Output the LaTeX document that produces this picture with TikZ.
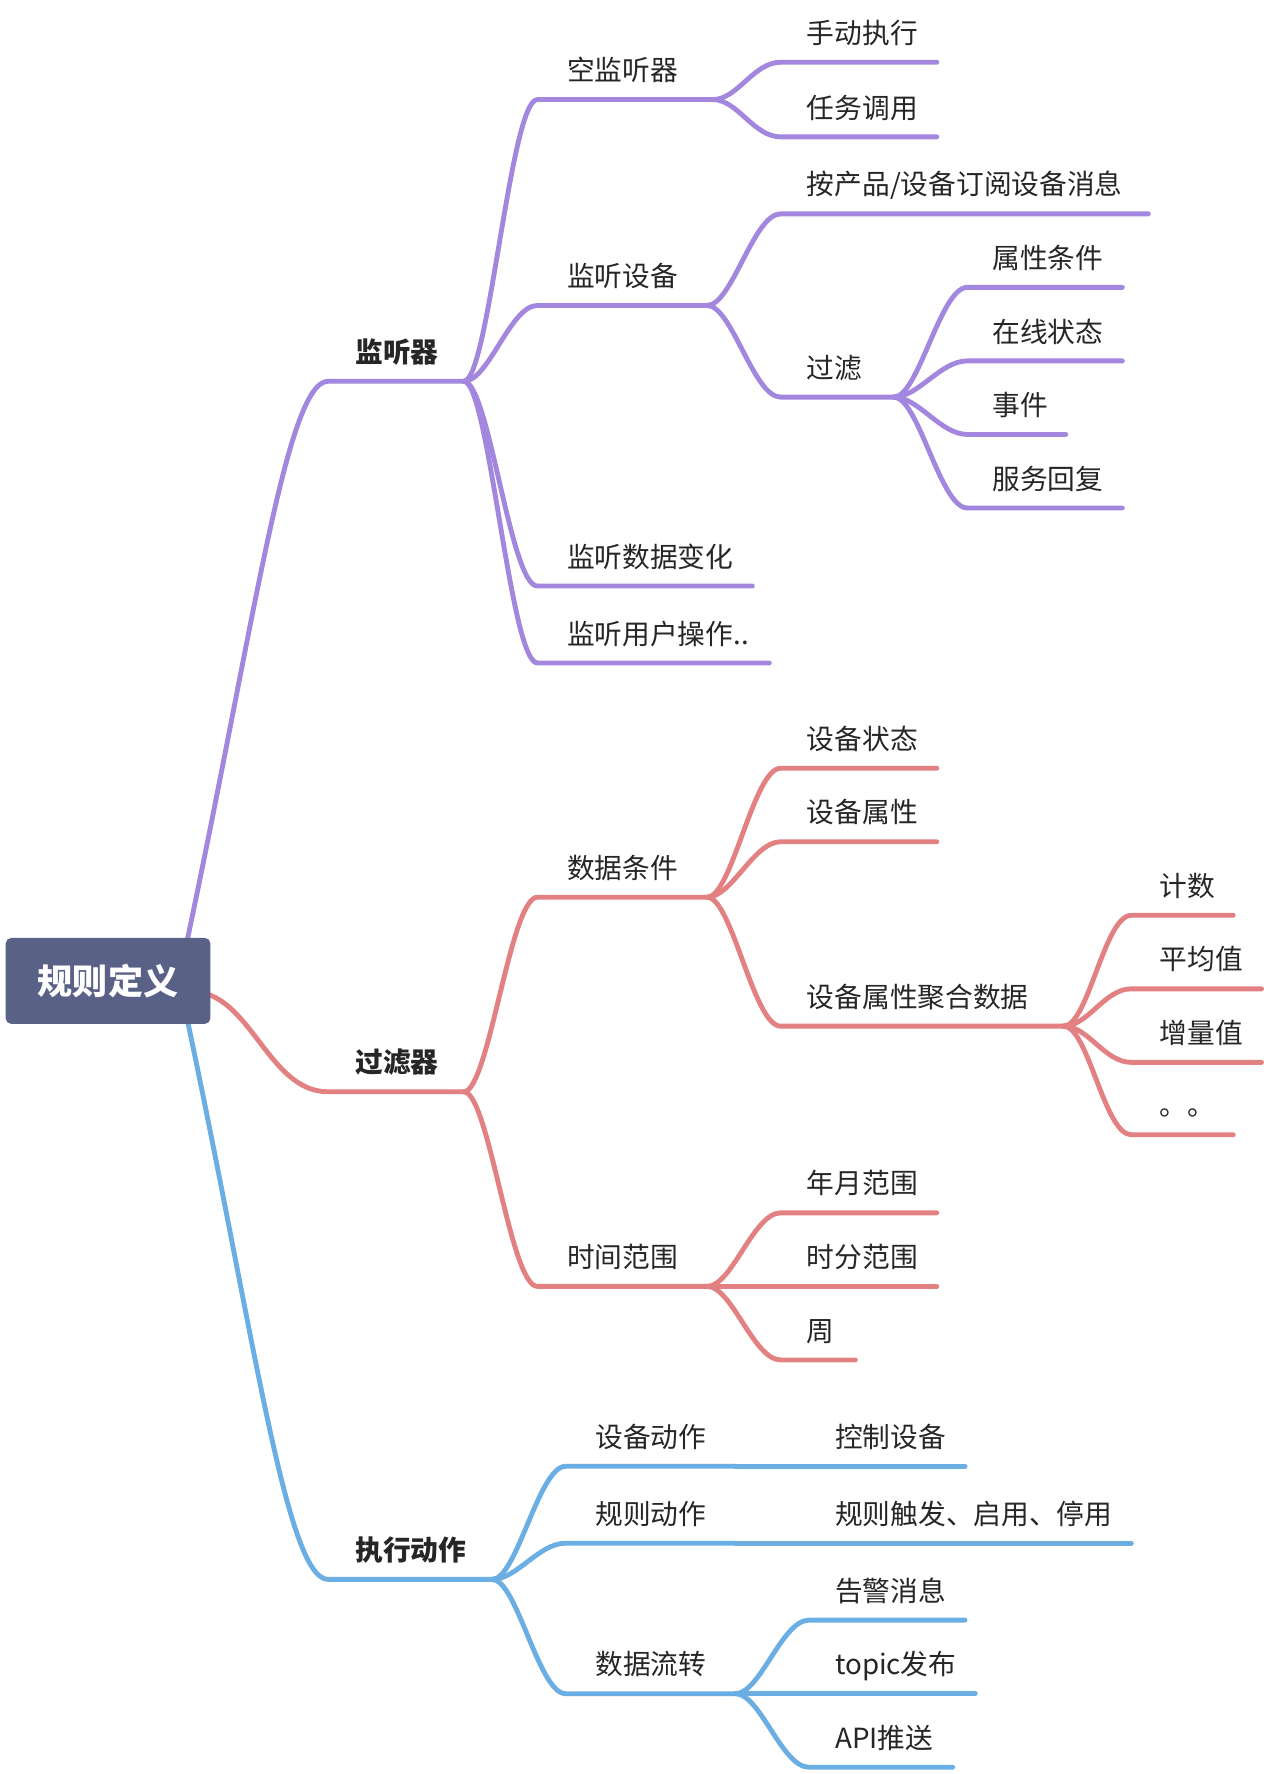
\documentclass[tikz,border=0pt]{standalone}
\usepackage{fontspec}
\setmainfont{Noto Sans CJK SC}
\definecolor{cpur}{RGB}{163,134,221}
\definecolor{cred}{RGB}{226,128,130}
\definecolor{cblu}{RGB}{106,174,228}
\definecolor{croot}{RGB}{90,97,134}
\definecolor{ctxt}{RGB}{38,38,38}
\tikzset{
  conn/.style={line width=4.3pt, line cap=round, line join=round},
  brP/.style={conn, draw=cpur},
  brR/.style={conn, draw=cred},
  brB/.style={conn, draw=cblu},
  lbl/.style={inner sep=0pt, anchor=base west, text=ctxt, font=\fontsize{24.5}{28}\selectfont},
  lblb/.style={lbl, font=\fontsize{24.5}{28}\selectfont\bfseries},
  rootbox/.style={fill=croot, rounded corners=5pt, minimum width=181pt, minimum height=76pt,
    inner sep=0pt, text=white, font=\fontsize{31}{34}\selectfont\bfseries},
}
% topic: [style]{name}{x start}{x end}{y}{text x}{text}
\newcommand\mtopic[7][lbl]{%
  \coordinate (#2-s) at (#3,#5);
  \coordinate (#2-e) at (#4,#5);
  \node[#1] (#2) at (#6,#5-16.7) {#7};}
% connector: {style}{parent}{child}
\newcommand\mconn[3]{\draw[#1] (#2-e) .. controls +(22,0) and +(-24,0) .. (#3-s) -- (#3-e);}
\begin{document}
\begin{tikzpicture}[x=1pt,y=-1pt]
\useasboundingbox (0,0) rectangle (1117,1568);
\fill[white] (0,0) rectangle (1117,1568);
% ---- topics
\mtopic[lblb]{jtq}{290}{410}{337}{314}{监听器}
\mtopic[lblb]{glq}{290}{410}{965}{314}{过滤器}
\mtopic[lblb]{zxdz}{290}{435}{1396}{314}{执行动作}
\mtopic{kjtq}{475}{630}{88}{501}{空监听器}
\mtopic{jtsb}{475}{625}{270}{501}{监听设备}
\mtopic{jtsj}{475}{665}{518}{501}{监听数据变化}
\mtopic{jtyh}{475}{680}{586}{501}{监听用户操作..}
\mtopic{sdzx}{690}{828}{55}{713}{手动执行}
\mtopic{rwdy}{690}{828}{121}{713}{任务调用}
\mtopic{acp}{690}{1015}{189}{713}{按产品/设备订阅设备消息}
\mtopic{gl}{690}{790}{351}{713}{过滤}
\mtopic{sxtj}{855}{992}{254}{877}{属性条件}
\mtopic{zxzt}{855}{992}{319}{877}{在线状态}
\mtopic{sj}{855}{942}{384}{877}{事件}
\mtopic{fwhf}{855}{992}{449}{877}{服务回复}
\mtopic{sjtj}{475}{625}{793}{501}{数据条件}
\mtopic{sjfw}{475}{625}{1137}{501}{时间范围}
\mtopic{sbzt}{690}{828}{679}{713}{设备状态}
\mtopic{sbsx}{690}{828}{744}{713}{设备属性}
\mtopic{sbjh}{690}{940}{907}{713}{设备属性聚合数据}
\mtopic{js}{1000}{1090}{809}{1025}{计数}
\mtopic{pjz}{1000}{1115}{874}{1025}{平均值}
\mtopic{zlz}{1000}{1115}{939}{1025}{增量值}
\mtopic{dd}{1000}{1090}{1003}{1025}{。。}
\mtopic{nyfw}{690}{828}{1072}{713}{年月范围}
\mtopic{sffw}{690}{828}{1137}{713}{时分范围}
\mtopic{zhou}{690}{756}{1202}{713}{周}
\mtopic{sbdz}{500}{650}{1296}{526}{设备动作}
\mtopic{gzdz}{500}{650}{1364}{526}{规则动作}
\mtopic{sjlz}{500}{650}{1497}{526}{数据流转}
\mtopic{kzsb}{715}{853}{1296}{738}{控制设备}
\mtopic{gzcf}{715}{1000}{1364}{738}{规则触发、启用、停用}
\mtopic{gjxx}{715}{853}{1432}{738}{告警消息}
\mtopic{topic}{715}{862}{1497}{738}{topic发布}
\mtopic{api}{715}{842}{1562}{738}{API推送}
% ---- root connectors
\coordinate (rc) at (158,866);
\coordinate (rcr) at (168,876);
\draw[brP] (rc) .. controls (223,566) and (252,337) .. (jtq-s) -- (jtq-e);
\draw[brR] (rcr) .. controls (222,876) and (236,965) .. (glq-s) -- (glq-e);
\draw[brB] (rc) .. controls (223,1166) and (252,1396) .. (zxdz-s) -- (zxdz-e);
% ---- purple
\mconn{brP}{jtq}{kjtq}
\mconn{brP}{jtq}{jtsb}
\mconn{brP}{jtq}{jtsj}
\mconn{brP}{jtq}{jtyh}
\mconn{brP}{kjtq}{sdzx}
\mconn{brP}{kjtq}{rwdy}
\mconn{brP}{jtsb}{acp}
\mconn{brP}{jtsb}{gl}
\mconn{brP}{gl}{sxtj}
\mconn{brP}{gl}{zxzt}
\mconn{brP}{gl}{sj}
\mconn{brP}{gl}{fwhf}
% ---- red
\mconn{brR}{glq}{sjtj}
\mconn{brR}{glq}{sjfw}
\mconn{brR}{sjtj}{sbzt}
\mconn{brR}{sjtj}{sbsx}
\mconn{brR}{sjtj}{sbjh}
\mconn{brR}{sbjh}{js}
\mconn{brR}{sbjh}{pjz}
\mconn{brR}{sbjh}{zlz}
\mconn{brR}{sbjh}{dd}
\mconn{brR}{sjfw}{nyfw}
\mconn{brR}{sjfw}{sffw}
\mconn{brR}{sjfw}{zhou}
% ---- blue
\mconn{brB}{zxdz}{sbdz}
\mconn{brB}{zxdz}{gzdz}
\mconn{brB}{zxdz}{sjlz}
\mconn{brB}{sbdz}{kzsb}
\mconn{brB}{gzdz}{gzcf}
\mconn{brB}{sjlz}{gjxx}
\mconn{brB}{sjlz}{topic}
\mconn{brB}{sjlz}{api}
% ---- root
\node[rootbox] (root) at (95.5,867) {规则定义};
\end{tikzpicture}
\end{document}
